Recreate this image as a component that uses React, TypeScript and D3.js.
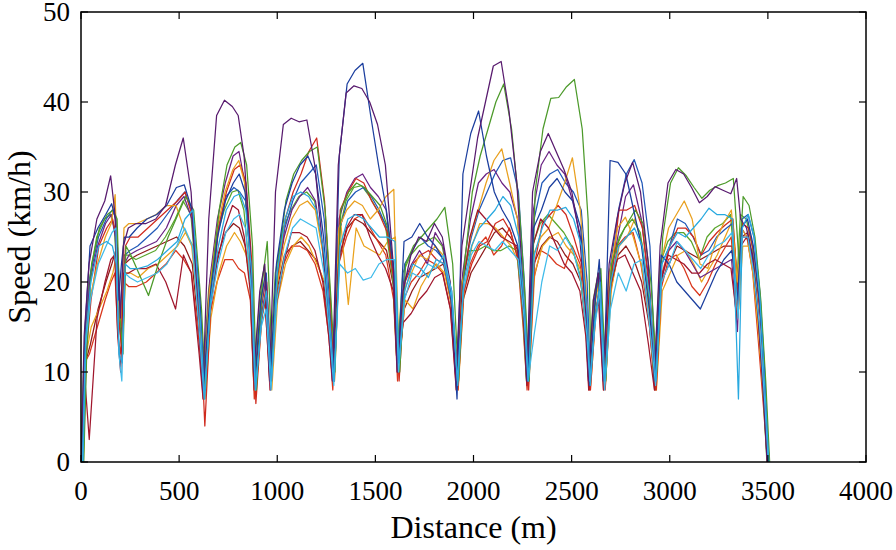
import React from 'react';
import * as d3 from 'd3';

// Shared distance grid (m)
const distance = [
  0, 15, 40, 80, 120, 150, 170, 185, 200, 215, 240, 280, 330, 380, 430, 480, 520, 560, 600, 620,
  650, 690, 730, 770, 800, 830, 860, 880,
  910, 935, 960,
  990, 1030, 1070, 1110, 1150, 1190, 1230, 1260, 1280,
  1310, 1350, 1390, 1430, 1470, 1510, 1550, 1590, 1610,
  1640, 1680, 1720, 1760, 1800, 1840, 1880, 1910,
  1940, 1980, 2020, 2060, 2100, 2140, 2180, 2220, 2250, 2270,
  2300, 2340, 2380, 2420, 2460, 2500, 2540, 2570, 2585,
  2610, 2635, 2660,
  2690, 2730, 2770, 2810, 2850, 2890, 2920,
  2950, 2990, 3030, 3070, 3110, 3150, 3190, 3230, 3270, 3310, 3340,
  3360, 3390, 3420, 3450, 3475, 3495,
];

// Speed series (km/h)
const speedP1 = [
  0, 14, 22, 27, 29, 31.8, 28, 22, 16, 24, 26, 26.5, 26.5, 27, 28.5, 33, 36, 30, 15, 8,
  27, 38.5, 40.2, 39.5, 38.5, 34, 24, 10,
  19, 22, 9,
  30, 37.5, 38.2, 37.8, 38, 33, 24, 16, 9,
  33, 41, 41.8, 41.5, 40, 37.5, 33, 22, 10,
  19, 23, 25, 24.5, 26.5, 25, 20, 9,
  24, 30, 36, 40, 44, 44.5, 39, 31, 20, 9,
  30, 34.5, 36.5, 34.5, 32.5, 30, 25, 17, 9,
  18, 21, 9,
  22, 27, 31, 33.3, 30, 22, 9,
  24, 31, 32.5, 32, 30.5, 28.8, 29.5, 30.6, 30.2, 29.8, 31.5,
  27, 26, 23, 16, 8, 0,
];
const speedB1 = [
  0, 15, 24, 26, 27.5, 28.7, 27, 18, 22, 25, 25, 26, 27, 27.5, 28.5, 30.5, 30.8, 28, 18, 9,
  18, 25, 29, 31, 32, 30, 22, 9,
  18, 21, 10,
  22, 28, 31, 33, 34, 32, 25, 16, 10,
  34, 42, 43.5, 44.3, 38.5, 33, 28, 21, 11,
  24.5, 25, 26.5, 25, 24, 22.5, 18, 7,
  32, 36.5, 39, 34, 30, 28, 26.5, 24, 17, 9,
  26, 28, 30.5, 31.5, 30, 29, 26, 17, 8.5,
  17, 22.5, 10,
  33.5, 33.3, 32, 28, 24, 17, 9,
  23, 22, 20, 19, 18, 17, 19, 21, 22.5, 23.5, 18,
  26, 27, 24, 18, 10, 0,
];
const speedP2 = [
  0, 13, 20, 24, 26.5, 27.5, 25, 17, 14, 22, 23, 23.5, 24, 24.5, 26, 28.5, 29.5, 27, 16, 9,
  20, 27, 31, 34, 34.5, 31, 21, 9,
  17, 20, 8,
  20, 25, 28, 29.5, 30.5, 29, 23, 15, 9,
  27, 30, 31.5, 32, 30.5, 29.5, 28, 20, 10,
  20, 22, 23.5, 22, 25.5, 24, 19, 9,
  21, 27, 31, 32, 32.5, 31, 30, 27, 18, 9,
  28, 33, 34.5, 33, 32, 29, 25, 18, 9,
  18, 20, 9,
  20, 25, 29.5, 30.8, 27, 20, 9,
  20, 23.5, 24.5, 23.5, 22, 20.5, 21, 21.5, 22, 22.5, 14.5,
  26, 25, 22, 15, 7, 0,
];
const speedG1 = [
  0, 12, 22, 26, 27.5, 28, 27, 16, 12, 24, 23, 21, 18.5, 22, 25, 27.5, 29.5, 28, 17, 8,
  20, 28, 33, 35, 35.5, 33, 24, 8,
  20, 24.5, 11,
  22, 29, 32, 33.5, 34.5, 35, 28, 18, 10,
  28, 30, 31, 30.5, 29.5, 28.5, 26, 20, 10,
  22, 24, 25, 26, 27, 28.3, 22, 9,
  22, 30, 34, 37, 40, 42, 37, 28, 18, 9,
  30, 37, 40.4, 40.5, 41.7, 42.5, 37, 27, 10,
  19, 21.5, 9,
  22, 25, 26.5, 28, 26.5, 20, 10,
  25, 31, 32.7, 31.8, 30.5, 29.3, 30.2, 30.7, 31, 31.5, 22,
  29.5, 28.5, 25, 18, 9, 0,
];
const speedG2 = [
  0, 12, 20, 25, 27, 27.5, 26, 20, 15, 23, 23, 22.5, 23, 23.5, 25, 27, 29, 27.5, 17, 9,
  19, 25, 28, 30, 30.2, 28, 21, 9,
  18, 22, 10,
  21, 26, 28, 29.5, 30, 29, 24, 16, 10,
  25, 29, 30.5, 30.7, 29.5, 28, 26.5, 20, 11,
  21, 23, 24, 24.5, 25, 24, 20, 10,
  20, 23.5, 23.5, 24, 23.5, 23.5, 24, 23.5, 17, 9,
  24, 26.5, 27.5, 26.5, 25.5, 24, 21, 16, 9.5,
  18, 21, 10,
  21, 24, 26, 27, 25.5, 19, 9,
  22, 24.5, 25.5, 25.5, 24.5, 22.5, 25, 26, 26.5, 27.5, 19,
  27.5, 27, 24, 17, 8, 0,
];
const speedO1 = [
  0, 13, 18, 22, 25, 26.5, 29.7, 18, 15, 26, 26.5, 26.5, 27, 27.5, 28.5, 28.5, 26, 24, 15, 8,
  19, 26, 30, 32.5, 33.5, 31, 22, 8,
  17, 21, 9,
  19, 24, 27, 28.5, 29, 28, 23, 15, 9,
  26, 28, 29, 28.5, 27, 28, 29.5, 30.3, 12,
  19, 21, 23, 22.5, 24, 23, 18, 9,
  20, 25, 28, 31, 33.5, 34.8, 31, 27, 19, 9,
  23, 25, 26, 28.5, 31, 33.8, 28, 19, 9,
  17, 20, 9,
  21, 26, 27.2, 25, 22, 17, 9,
  22, 26, 27.5, 29, 27, 22, 21.5, 24.5, 26.5, 28, 20,
  26, 25, 21, 14, 7, 0,
];
const speedO2 = [
  0, 12, 15, 17, 19, 21, 23, 16, 13, 21, 21, 20.5, 21.5, 22, 23, 24, 25.5, 24, 14, 7,
  16, 21, 24, 25.5, 24.5, 23, 19, 8,
  16, 19, 8,
  18, 22, 24, 25, 24, 22, 20, 14, 9,
  27, 17.5, 26, 24, 23.5, 23, 24.5, 25, 11,
  18, 17, 19.5, 21, 22, 21, 17, 8,
  19, 24, 26.5, 26.5, 26, 25, 24, 22, 16, 9,
  21, 24, 25, 25.5, 24, 23, 21, 15, 8.5,
  16, 19, 8.5,
  19, 24, 25, 27, 24, 16, 8,
  19, 21, 23, 23.5, 22, 20, 21.5, 23, 25, 27, 17,
  24, 24, 20, 12, 6, 0,
];
const speedR1 = [
  0, 12, 18, 24, 26, 27, 25, 15, 12, 24, 25, 25, 26, 27, 28, 29, 30, 27, 14, 4,
  17, 26, 30, 32.5, 33, 31, 22, 6.5,
  16, 20, 9,
  20, 27, 30, 32, 34.5, 36, 29, 18, 9,
  28, 30, 31.5, 31, 29, 27.5, 25.5, 19, 9,
  20, 22, 23, 23.5, 22.5, 22, 17, 8,
  19, 22, 24, 24.5, 26.5, 27, 25.5, 22, 15, 8,
  22, 26.5, 27.5, 28.5, 27.5, 25, 22, 15, 8,
  16, 20, 8,
  20, 28, 28, 28.5, 26, 18, 8,
  21, 24, 26, 26, 25, 23, 24.5, 25.5, 26.3, 27, 18,
  26.5, 26, 23, 16, 7, 0,
];
const speedR2 = [
  0, 11, 12, 15, 18, 20, 21, 14, 12, 20, 19.5, 19.5, 20, 21, 22, 23.5, 22.5, 21, 13, 7,
  16, 20, 22.5, 22.5, 21.5, 21, 18, 7,
  15, 18, 8,
  18, 22, 24, 24, 23.5, 22, 19, 14, 8,
  22, 25, 27, 27.5, 26, 24.5, 23, 18, 9,
  18, 20, 21, 22.5, 22, 21, 17, 8,
  18, 22, 24, 25, 23, 24, 26, 23, 15, 8,
  20, 23.5, 23, 22, 21.5, 24, 22, 15, 8,
  15, 19, 8,
  18, 24, 25, 25.5, 22, 16, 8,
  19, 22.5, 23, 21.5, 19.5, 18.5, 20, 22, 23.5, 25, 17,
  25, 25, 21, 13, 6, 0,
];
const speedDR1 = [
  0, 10, 2.5, 16, 20, 22.5, 23, 14, 10, 21, 21, 21.5, 21.5, 22, 20, 17, 23, 21, 12, 7,
  16, 22, 26, 28.5, 28, 25, 19, 8,
  15, 18, 9,
  17, 22, 25.5, 25.5, 25, 23.5, 20, 14, 9,
  22, 26, 27.5, 27.5, 25, 23, 21.5, 19, 10,
  15.5, 16.5, 18, 19, 20.5, 21, 17, 8,
  19, 25, 28, 27, 26, 25, 24.5, 24, 17, 8.5,
  24, 27, 26, 24, 22, 21, 19, 14, 8,
  15, 18, 8,
  19, 22.5, 23, 21, 19, 13, 8,
  20, 23, 22.5, 22, 21, 21, 22, 22.5, 22, 21.5, 16,
  24, 25, 23, 16, 8, 0,
];
const speedDR2 = [
  0, 11, 13, 17, 20, 22, 23.5, 16, 13, 22, 22.5, 23, 23.5, 24, 24.5, 25, 24, 22, 13, 7.5,
  17, 23, 25.5, 26.5, 26, 24, 19, 8,
  16, 19, 9,
  19, 23, 24, 24.5, 23.5, 22.5, 20, 14, 9,
  23, 26, 27, 26.5, 25.5, 24.5, 23.5, 19, 10,
  17, 19, 20.5, 21, 21.5, 22, 18, 8.5,
  18, 21, 22.5, 24, 25.5, 26, 25, 23.5, 16, 8.5,
  22, 24, 25, 24.5, 23, 22, 20, 14, 8,
  16, 19, 8.5,
  19, 23, 24, 22.5, 20, 15, 8,
  20, 22, 24, 23.5, 23, 22.5, 23, 23.5, 24, 24, 17,
  25, 25.5, 22, 14, 7, 0,
];
const speedLB1 = [
  0, 14, 20, 24, 24.5, 24, 22, 12, 11, 22, 21.5, 21.5, 21.8, 22.5, 23.5, 24.5, 27, 28, 15, 7,
  18, 24, 28, 29.5, 29.8, 28, 21, 8,
  16, 19, 9,
  21, 27, 29.5, 30, 29.5, 28, 23, 15, 9,
  24, 27, 27.5, 27, 26, 25, 25, 24.5, 11,
  19, 22, 21.5, 20.5, 22.5, 22, 18, 8.5,
  20, 24, 26, 27, 28, 29.5, 28.5, 25, 17, 9,
  23, 26, 28, 28, 28.3, 27, 24, 16, 8.5,
  16, 20, 9,
  20, 24, 25, 26, 24, 18, 9,
  22, 24, 25.5, 25, 26, 27, 28.2, 27.5, 27.5, 27, 7,
  26, 27.5, 25, 18, 8, 0,
];
const speedLB2 = [
  0, 13, 18, 22, 24, 25.5, 26, 12, 9, 21, 20.5, 20, 20.5, 21, 22, 24, 26, 24, 13, 7,
  17, 22, 25.5, 27, 27.5, 26, 19, 8,
  15, 17, 8,
  18, 23, 26, 27, 26.5, 26, 21, 14, 8.5,
  22, 21, 21.5, 20.2, 20.5, 22, 22.5, 22.5, 10,
  18, 21, 20.5, 22, 21.5, 23, 19, 9,
  19, 23, 24.5, 24, 23.5, 24.5, 23.5, 22.5, 16, 9,
  14, 20, 24, 23.5, 25, 23.5, 20, 14, 9,
  15, 19, 8,
  17, 21, 19, 22, 22.5, 15, 8.5,
  20, 22, 24.5, 23.5, 22.5, 21.5, 23, 24, 24.5, 25.5, 16,
  25, 25, 21, 15, 7, 0,
];
const speedB2 = [
  0, 14, 21, 25, 27, 28, 27, 20, 15, 23, 23.5, 24, 25, 26, 27.5, 29, 30, 27.5, 16, 8,
  19, 26, 29.5, 30.5, 30, 29, 21, 9,
  17, 21, 10,
  20, 26, 29, 31, 32, 33, 27, 17, 9,
  26, 29, 30, 30.5, 29.5, 28, 26, 20, 10,
  22, 23.5, 25, 24, 23.5, 22.5, 19, 9,
  21, 25, 28, 30, 32, 33.5, 33.8, 30, 20, 9,
  27, 31, 32, 32.5, 31, 30, 28, 20, 10,
  18, 21, 9,
  22, 28, 32, 33.6, 31, 24, 9,
  22, 24, 27, 26.5, 25, 23, 23.5, 25, 25.8, 26.5, 19,
  27, 27.5, 25, 19, 10, 0,
];

// Per-run start offset along the route (m)
const runOffsets = [7, 3, 12, 0, 9, 5, 11, 4, 2, 14, 6, 1, 8, 10];

const runs = [
  { name: 'DR2', speed: speedDR2, color: '#8f1a1a' },
  { name: 'R2', speed: speedR2, color: '#d9361c' },
  { name: 'O2', speed: speedO2, color: '#eaa21c' },
  { name: 'G2', speed: speedG2, color: '#5aa52c' },
  { name: 'B2', speed: speedB2, color: '#2158b8' },
  { name: 'P2', speed: speedP2, color: '#6a2383' },
  { name: 'R1', speed: speedR1, color: '#cf2a1e' },
  { name: 'O1', speed: speedO1, color: '#e9a01f' },
  { name: 'DR1', speed: speedDR1, color: '#a0162c' },
  { name: 'G1', speed: speedG1, color: '#4c9a2a' },
  { name: 'B1', speed: speedB1, color: '#1b3e9e' },
  { name: 'P1', speed: speedP1, color: '#581a6e' },
  { name: 'LB2', speed: speedLB2, color: '#3fbbea' },
  { name: 'LB1', speed: speedLB1, color: '#28a9e0' },
];

const xTicks = [0, 500, 1000, 1500, 2000, 2500, 3000, 3500, 4000];
const yTicks = [0, 10, 20, 30, 40, 50];

export default function App() {
  const W = 896;
  const H = 550;
  const left = 81, right = 866, top = 12, bottom = 462;
  const x = d3.scaleLinear().domain([0, 4000]).range([left, right]);
  const y = d3.scaleLinear().domain([0, 50]).range([bottom, top]);
  const textStyle: React.CSSProperties = { fontFamily: "'Liberation Serif', 'Times New Roman', Times, serif" };
  const tickLen = 7;

  return (
    <div style={{ position: 'absolute', left: 0, top: 0, width: W, height: H, background: '#fff' }}>
      <svg width={W} height={H} viewBox={`0 0 ${W} ${H}`} style={{ display: 'block' }}>
        <rect x={0} y={0} width={W} height={H} fill="#fff" />
        <defs>
          <clipPath id="plotClip">
            <rect x={left} y={top} width={right - left} height={bottom - top} />
          </clipPath>
        </defs>
        <g clipPath="url(#plotClip)">
          {runs.map((r, i) => {
            const pts: [number, number][] = distance.map((d, k) => [d + runOffsets[i], r.speed[k]]);
            const line = d3.line<[number, number]>()
              .x((p) => x(p[0]))
              .y((p) => y(p[1]));
            return (
              <path key={r.name} d={line(pts) || ''} fill="none" stroke={r.color}
                strokeWidth={1.25} strokeLinejoin="round" />
            );
          })}
        </g>
        {xTicks.map((t) => (
          <g key={'xt' + t}>
            <line x1={x(t)} x2={x(t)} y1={bottom} y2={bottom - tickLen} stroke="#000" strokeWidth={1.2} />
            <line x1={x(t)} x2={x(t)} y1={top} y2={top + tickLen} stroke="#000" strokeWidth={1.2} />
            <text x={x(t)} y={500} textAnchor="middle" style={textStyle} fontSize={27} fill="#000">{t}</text>
          </g>
        ))}
        {yTicks.map((t) => (
          <g key={'yt' + t}>
            <line x1={left} x2={left + tickLen} y1={y(t)} y2={y(t)} stroke="#000" strokeWidth={1.2} />
            <line x1={right} x2={right - tickLen} y1={y(t)} y2={y(t)} stroke="#000" strokeWidth={1.2} />
            <text x={70} y={y(t) + 9} textAnchor="end" style={textStyle} fontSize={27} fill="#000">{t}</text>
          </g>
        ))}
        <rect x={left} y={top} width={right - left} height={bottom - top} fill="none" stroke="#000" strokeWidth={1.5} />
        <text x={(left + right) / 2} y={538} textAnchor="middle" style={textStyle} fontSize={32} fill="#000">Distance (m)</text>
        <text transform={`translate(30, ${(top + bottom) / 2}) rotate(-90)`} textAnchor="middle" style={textStyle} fontSize={32} fill="#000">Speed (km/h)</text>
      </svg>
    </div>
  );
}
